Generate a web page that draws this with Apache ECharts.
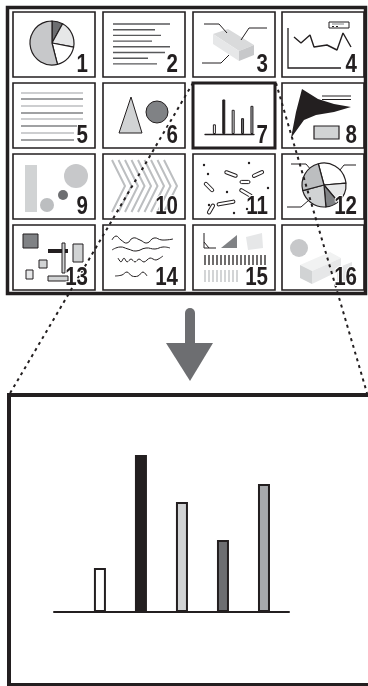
<!DOCTYPE html>
<html>
<head>
<meta charset="utf-8">
<script src="https://cdn.jsdelivr.net/npm/echarts@6/dist/echarts.min.js"></script>
<style>
html, body { margin: 0; padding: 0; background: #fff; }
#chart { width: 368px; height: 686px; }
</style>
</head>
<body>
<div id="chart"></div>
<script>
// enlarged panel 7: five bars
const barPositions = [1, 2, 3, 4, 5]
const barValues = [44, 157, 110, 72, 128]
const barColors = ['#ffffff', '#231f20', '#d1d3d4', '#6d6e71', '#a7a9ac']
// panel 1 pie
const pie1Values = [8, 20, 18, 54]
const pie1Colors = ['#6d6e71', '#e6e7e8', '#ffffff', '#c7c8ca']
// panel 4 line
const line4X = [6, 13, 22, 26, 39, 49, 55, 63]
const line4Y = [31, 25, 33, 21, 23, 18, 35, 21]
// panel 12 pie
const pie12Values = [100, 55, 35, 80, 90]
const pie12Colors = ['#ffffff', '#e6e7e8', '#808285', '#d1d3d4', '#bcbec0']
// panel numbers
const panelLabels = ['1', '2', '3', '4', '5', '6', '7', '8', '9', '10', '11', '12', '13', '14', '15', '16']

const INK = '#231f20'
const colX = [13, 103, 193, 282]
const rowY = [12, 83, 154, 225]
const cellW = 82
const cellH = 65

const G = []
function rect (x, y, w, h, fill, stroke, lw, z) {
  G.push({ type: 'rect', z: z || 1, shape: { x: x, y: y, width: w, height: h }, style: { fill: fill || 'none', stroke: stroke || null, lineWidth: lw || 0 } })
}
function pline (pts, stroke, lw, z, dash, smooth) {
  G.push({ type: 'polyline', z: z || 1, shape: { points: pts, smooth: smooth || 0 }, style: { fill: null, stroke: stroke, lineWidth: lw, lineDash: dash || null } })
}
function poly (pts, fill, stroke, lw, z) {
  G.push({ type: 'polygon', z: z || 1, shape: { points: pts }, style: { fill: fill, stroke: stroke || null, lineWidth: lw || 0 } })
}
function circ (cx, cy, r, fill, stroke, lw, z) {
  G.push({ type: 'circle', z: z || 1, shape: { cx: cx, cy: cy, r: r }, style: { fill: fill, stroke: stroke || null, lineWidth: lw || 0 } })
}
function capsule (cx, cy, len, deg) {
  G.push({ type: 'rect', z: 1, x: cx, y: cy, rotation: deg * Math.PI / 180, shape: { x: -len / 2, y: -1.6, width: len, height: 3.2, r: 1.6 }, style: { fill: '#fff', stroke: INK, lineWidth: 1 } })
}

// outer frame of the thumbnail sheet
rect(7.5, 7.5, 358, 286, null, INK, 3.5, 3)
// cells
panelLabels.forEach((t, i) => {
  const x = colX[i % 4]
  const y = rowY[Math.floor(i / 4)]
  rect(x, y, cellW, cellH, null, INK, i === 6 ? 3 : 1.6, 3)
  // condensed bold number in the bottom-right corner
  G.push({
    type: 'text', z: 12, x: x + cellW - 7, y: y + cellH + 1, scaleX: 0.82, scaleY: 1.04,
    style: { text: t, x: 0, y: 0, fill: INK, stroke: '#fff', lineWidth: 2, font: 'bold 25px "Liberation Sans", Arial', textAlign: 'right', textVerticalAlign: 'bottom' }
  })
})

// panel 2: text lines
const p2Ends = [170, 155, 161, 152, 170, 165, 148, 157]
p2Ends.forEach((e, i) => pline([[113, 24 + i * 5.7], [e, 24 + i * 5.7]], '#58595b', 1.4))
// panel 5: alternating ruled lines
const p5Y = [93, 99, 106, 113, 119, 126, 133, 140]
p5Y.forEach((y, i) => pline([[21, y], [i >= 6 ? 74 : 83, y]], i % 2 ? '#808285' : '#bcbec0', 1.4))
// panel 3: 3d block with leader lines
poly([[213, 34], [228, 29], [254, 45], [239, 51]], '#d9dadb')
poly([[213, 34], [239, 51], [239, 61], [213, 44]], '#e6e7e8')
poly([[239, 51], [254, 45], [254, 55], [239, 61]], '#c7c8ca')
pline([[204, 24], [219, 24], [227, 33]], INK, 1)
pline([[267, 28], [249, 28], [241, 40]], INK, 1)
pline([[202, 63], [221, 63], [229, 55]], INK, 1)
// panel 4: axes and legend box
pline([[288, 28], [288, 68], [341, 68]], INK, 1.3)
rect(329, 22, 20, 6, '#fff', INK, 1)
pline([[332, 24], [344, 24]], '#808285', 1)
pline([[332, 26.5], [334, 26.5]], INK, 1)
pline([[336, 26.5], [338, 26.5]], INK, 1)
// panel 6: triangle and circle
poly([[131, 97], [119, 133], [142, 133]], '#d1d3d4', INK, 1)
circ(157, 112, 11, '#808285', INK, 1)
// panel 8: black funnel shape, double line, grey box
poly([[291, 138], [296, 112], [302, 89], [318, 99], [334, 104], [351, 107], [334, 112], [316, 115], [304, 120]], INK)
pline([[322, 96], [351, 96]], INK, 1)
pline([[322, 99.5], [351, 99.5]], INK, 1)
rect(314, 126, 25, 13, '#d1d3d4', INK, 1.2)
// panel 9: bar and circles
rect(25, 165, 12, 47, '#d1d3d4')
circ(76, 176, 12, '#c7c8ca')
circ(63, 195, 5, '#6d6e71')
circ(47, 205, 7, '#bcbec0')
// panel 10: chevrons
for (let k = 0; k < 9; k++) {
  const x = 112 + k * 6.5
  pline([[x, 160], [x + 13, 186], [x, 212]], '#bcbec0', 2)
}
// panel 11: dots and capsules
const dots11 = [[204, 165], [208, 174], [249, 163], [268, 188], [227, 192], [234, 213], [247, 209], [209, 205]]
dots11.forEach(d => circ(d[0], d[1], 1.2, INK))
capsule(231, 174, 13, -20)
capsule(258, 174, 12, 25)
capsule(245, 182, 10, 0)
capsule(209, 187, 12, -45)
capsule(246, 193, 14, -30)
capsule(226, 203, 18, 10)
capsule(211, 209, 11, 60)
// panel 12: leader lines
pline([[291, 164], [306, 164], [312, 171]], INK, 1)
pline([[356, 165], [344, 165], [336, 175]], INK, 1)
pline([[287, 207], [301, 207], [309, 200]], INK, 1)
// panel 13: boxes
rect(23, 234, 15, 14, '#808285', INK, 1)
rect(48, 249, 20, 4, INK)
rect(62, 243, 3, 30, '#d1d3d4', INK, 1)
rect(73, 244, 10, 18, '#d1d3d4', INK, 1)
rect(39, 260, 8, 8, '#d1d3d4', INK, 1)
rect(26, 270, 7, 9, '#e6e7e8', INK, 1)
rect(48, 276, 20, 5, '#d1d3d4', INK, 1)
// panel 14: squiggles
pline([[112, 240], [116, 236], [121, 240], [127, 243], [133, 238], [140, 240], [147, 243], [154, 238], [162, 240], [173, 239]], INK, 1, 1, null, 0.5)
pline([[112, 250], [120, 247], [128, 249], [136, 251], [146, 248], [155, 249], [163, 247], [170, 248]], INK, 1, 1, null, 0.5)
pline([[118, 258], [121, 262], [124, 258], [127, 262], [131, 259], [135, 262], [139, 259], [144, 262], [150, 258], [156, 260], [163, 256]], INK, 1, 1, null, 0.3)
pline([[115, 276], [122, 275], [127, 272], [132, 276], [138, 276], [143, 272], [147, 276]], INK, 1, 1, null, 0.4)
// panel 15: angle, triangles, bar codes
pline([[204, 233], [204, 248], [216, 248]], INK, 1)
pline([[204, 242], [209, 248]], INK, 1)
poly([[221, 248], [237, 235], [237, 248]], '#808285')
poly([[246, 237], [262, 233], [263, 248], [248, 250]], '#e6e7e8')
for (let k = 0; k < 16; k++) pline([[205 + k * 4, 255], [205 + k * 4, 265]], INK, 1.3)
for (let k = 0; k < 9; k++) pline([[205 + k * 4, 270], [205 + k * 4, 282]], '#bcbec0', 1.3)
// panel 16: circle and slab
circ(299, 248, 9, '#c7c8ca')
poly([[300, 265], [330, 252], [341, 258], [312, 271]], '#f1f2f2')
poly([[300, 265], [312, 271], [312, 284], [300, 278]], '#d1d3d4')
poly([[312, 271], [341, 258], [341, 270], [312, 284]], '#e6e7e8')
poly([[337, 268], [352, 262], [352, 282], [337, 284]], '#e6e7e8')

// dotted zoom lines
pline([[193, 83], [9, 395]], INK, 2, 11, [3, 4])
pline([[276, 83], [367, 393]], INK, 2, 11, [3, 4])
// arrow
G.push({ type: 'rect', z: 1, shape: { x: 185, y: 308, width: 10, height: 40, r: [5, 5, 0, 0] }, style: { fill: '#6d6e71' } })
poly([[166, 343], [213, 343], [190, 381]], '#6d6e71')
// lower frame (right side runs off the picture)
rect(9, 395, 366, 290, null, INK, 4, 3)

const myChart = echarts.init(document.getElementById('chart'))
const option = {
  animation: false,
  graphic: { elements: G },
  grid: [
    { left: 54, top: 442, width: 235, height: 170 },
    { left: 205, top: 96.6, width: 49, height: 37.4 },
    { left: 288, top: 28, width: 63, height: 40 }
  ],
  xAxis: [
    { gridIndex: 0, type: 'value', min: -0.12, max: 5.61, axisLine: { lineStyle: { color: INK, width: 2 } }, axisTick: { show: false }, axisLabel: { show: false }, splitLine: { show: false } },
    { gridIndex: 1, type: 'value', min: 0, max: 5.22, axisLine: { lineStyle: { color: INK, width: 1.3 } }, axisTick: { show: false }, axisLabel: { show: false }, splitLine: { show: false } },
    { gridIndex: 2, type: 'value', min: 0, max: 63, show: false }
  ],
  yAxis: [
    { gridIndex: 0, type: 'value', min: 0, max: 170, show: false },
    { gridIndex: 1, type: 'value', min: 0, max: 170, show: false },
    { gridIndex: 2, type: 'value', min: 0, max: 40, show: false }
  ],
  series: [
    {
      type: 'bar',
      xAxisIndex: 0,
      yAxisIndex: 0,
      barWidth: 12,
      data: barPositions.map((p, i) => ({ value: [p, barValues[i]], itemStyle: { color: barColors[i], borderColor: INK, borderWidth: 2 } }))
    },
    {
      type: 'bar',
      xAxisIndex: 1,
      yAxisIndex: 1,
      barWidth: 3,
      data: barPositions.map((p, i) => ({ value: [p, barValues[i]], itemStyle: { color: barColors[i], borderColor: INK, borderWidth: 1 } }))
    },
    {
      type: 'line',
      xAxisIndex: 2,
      yAxisIndex: 2,
      showSymbol: false,
      lineStyle: { color: INK, width: 1.4 },
      data: line4X.map((x, i) => [x, line4Y[i]])
    },
    {
      type: 'pie',
      center: [52, 43],
      radius: 22,
      startAngle: 90,
      label: { show: false },
      labelLine: { show: false },
      itemStyle: { borderColor: INK, borderWidth: 1.2 },
      data: pie1Values.map((v, i) => ({ value: v, itemStyle: { color: pie1Colors[i] } }))
    },
    {
      type: 'pie',
      center: [324, 185],
      radius: 22,
      startAngle: 105,
      label: { show: false },
      labelLine: { show: false },
      itemStyle: { borderColor: INK, borderWidth: 1.2 },
      data: pie12Values.map((v, i) => ({ value: v, itemStyle: { color: pie12Colors[i] } }))
    }
  ]
}
myChart.setOption(option)
</script>
</body>
</html>
